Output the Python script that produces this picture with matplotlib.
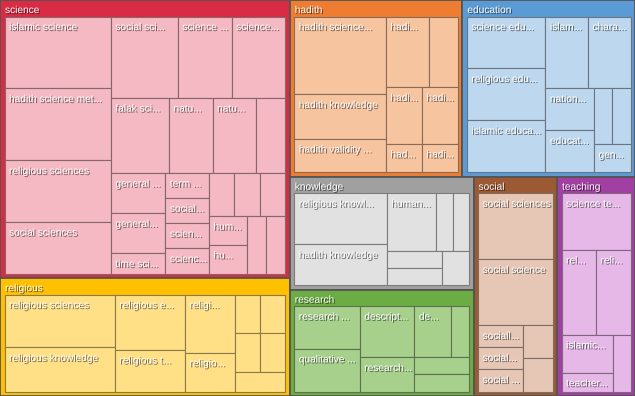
import matplotlib.pyplot as plt
import matplotlib.patches as mpatches
import matplotlib.patheffects as pe

# top level groups
groups = ["science", "religious", "hadith", "education", "knowledge", "research", "social", "teaching"]
header_colors = ["#D92B43", "#FFC000", "#EE7D31", "#5B9BD5", "#A0A0A0", "#6CAC44", "#9C5A34", "#A23FA2"]
cell_colors = ["#F4B9C2", "#FFE086", "#F7C4A0", "#BDD7EE", "#E1E1E1", "#A8D08D", "#E6C7B6", "#E6B8E7"]

# keyword counts inside every group (sorted, as the treemap does)
science_vals = [7, 7, 6, 5, 5, 4, 4, 4, 3, 3, 2, 2, 2, 1, 1, 1, 1, 1, 1, 1, 1, 1, 1, 1, 1]
science_labels = ["islamic science", "hadith science met...", "religious sciences", "social sciences",
                  "social sci...", "science ...", "science...", "falak sci...", "natu...", "natu...", "",
                  "general ...", "general...", "time sci...", "term ...", "social...", "scien...", "scienc...",
                  "", "", "", "hum...", "hu...", "", ""]
religious_vals = [6, 5, 4, 3, 3, 2, 1, 1, 1, 1, 1]
religious_labels = ["religious sciences", "religious knowledge", "religious e...", "religious t...",
                    "religi...", "religio...", "", "", "", "", ""]
hadith_vals = [7, 4, 3, 3, 2, 2, 2, 1, 1]
hadith_labels = ["hadith science...", "hadith knowledge", "hadith validity ...", "hadi...", "",
                 "hadi...", "hadi...", "had...", "hadi..."]
education_vals = [4, 4, 4, 3, 3, 2, 2, 1, 1, 1]
education_labels = ["science edu...", "religious edu...", "islamic educa...", "islam...", "chara...",
                    "nation...", "educat...", "", "", "gen..."]
knowledge_vals = [5, 4, 3, 1, 1, 1, 1, 1]
knowledge_labels = ["religious knowl...", "hadith knowledge", "human...", "", "", "", "", ""]
research_vals = [3, 3, 3, 2, 2, 1, 1, 1]
research_labels = ["research ...", "qualitative ...", "descript...", "research...", "de...", "", "", ""]
social_vals = [5, 5, 1, 1, 1, 1, 1]
social_labels = ["social sciences", "social science", "sociall...", "social...", "social ...", "", ""]
teaching_vals = [4, 3, 3, 2, 1, 1]
teaching_labels = ["science te...", "rel...", "reli...", "islamic...", "teacher...", ""]

children = [
    (science_vals, science_labels),
    (religious_vals, religious_labels),
    (hadith_vals, hadith_labels),
    (education_vals, education_labels),
    (knowledge_vals, knowledge_labels),
    (research_vals, research_labels),
    (social_vals, social_labels),
    (teaching_vals, teaching_labels),
]

PHI = (1 + 5 ** 0.5) / 2


def squarify(vals, x0, y0, x1, y1, ratio=PHI):
    # squarified layout, same rule as d3.treemapSquarify
    out = []
    n = len(vals)
    total = float(sum(vals))
    i0 = 0
    while i0 < n:
        dx, dy = x1 - x0, y1 - y0
        s = vals[i0]
        i1 = i0 + 1
        vmin = vmax = s
        alpha = max(dy / dx, dx / dy) / (total * ratio)
        beta = s * s * alpha
        best = max(vmax / beta, beta / vmin)
        while i1 < n:
            v = vals[i1]
            s2 = s + v
            lo, hi = min(vmin, v), max(vmax, v)
            beta = s2 * s2 * alpha
            r = max(hi / beta, beta / lo)
            if r > best:
                break
            s, vmin, vmax, best = s2, lo, hi, r
            i1 += 1
        row = vals[i0:i1]
        if dx < dy:
            h = dy * s / total
            cx = x0
            for v in row:
                w = dx * v / s
                out.append((cx, y0, w, h))
                cx += w
            y0 += h
        else:
            w = dx * s / total
            cy = y0
            for v in row:
                h = dy * v / s
                out.append((x0, cy, w, h))
                cy += h
            x0 += w
        total -= s
        i0 = i1
    return out


def darker(c, f=0.6):
    r, g, b = plt.matplotlib.colors.to_rgb(c)
    return (r * f, g * f, b * f)


W, H = 635, 396
fig = plt.figure(figsize=(W / 100, H / 100), dpi=100)
ax = fig.add_axes([0, 0, 1, 1])
ax.set_xlim(0, W)
ax.set_ylim(H, 0)
ax.axis("off")

font = dict(family=["Liberation Sans", "DejaVu Sans"], size=7.3, color="white")
shadow = [pe.SimplePatchShadow(offset=(0.8, -0.8), shadow_rgbFace="black", alpha=0.55), pe.Normal()]

totals = [sum(v) for v, _ in children]
group_rects = squarify(totals, 0, 0, W, H)

for gi, (gx, gy, gw, gh) in enumerate(group_rects):
    ax.add_patch(mpatches.Rectangle((gx, gy), gw, gh, facecolor=header_colors[gi],
                                    edgecolor="#555555", lw=1.3))
    ax.text(gx + 5, gy + 13, groups[gi], path_effects=shadow, **font)
    vals, labels = children[gi]
    pad, top = 4.5, 16.5
    cells = squarify(vals, gx + pad, gy + top, gx + gw - pad, gy + gh - pad)
    for (cx, cy, cw, ch), lab in zip(cells, labels):
        ax.add_patch(mpatches.Rectangle((cx, cy), cw, ch, facecolor=cell_colors[gi],
                                        edgecolor=darker(cell_colors[gi], 0.55), lw=0.8))
        if lab:
            ax.text(cx + 4.5, cy + 13.5, lab, path_effects=shadow, **font)

fig.savefig("out.png", dpi=100)
